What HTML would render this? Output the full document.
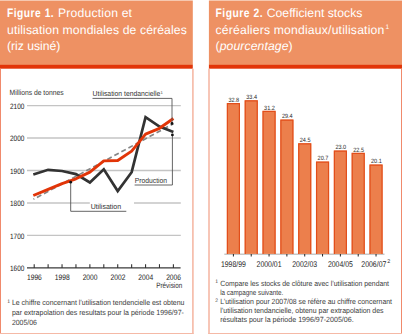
<!DOCTYPE html>
<html><head><meta charset="utf-8"><style>
html,body{margin:0;padding:0;background:#fff;width:402px;height:334px;overflow:hidden}
svg{display:block}
text{font-family:"Liberation Sans", sans-serif;text-rendering:geometricPrecision}
</style></head><body>
<svg width="402" height="334" viewBox="0 0 402 334">
<rect x="0" y="0.5" width="192.8" height="64.5" fill="#EE9163"/>
<rect x="0" y="64.8" width="192.8" height="3.9" fill="#E23508"/>
<rect x="208.9" y="0.5" width="193.1" height="64.5" fill="#EE9163"/>
<rect x="208.9" y="64.8" width="193.1" height="3.9" fill="#E23508"/>
<rect x="0" y="68.7" width="1" height="265.3" fill="#F08A6C"/>
<rect x="192.1" y="68.7" width="1.6" height="265.3" fill="#F5B9A6"/>
<rect x="0" y="333" width="193.5" height="1" fill="#F5B9A6"/>
<rect x="208.2" y="68.7" width="1.6" height="265.3" fill="#F5B9A6"/>
<rect x="401" y="68.7" width="1" height="265.3" fill="#F08A6C"/>
<rect x="208.2" y="333" width="194" height="1" fill="#F5B9A6"/>
<text x="7" y="16.6" font-size="12.2" font-weight="bold" font-style="normal" text-anchor="start" fill="#fff" textLength="47.2" lengthAdjust="spacingAndGlyphs" letter-spacing="0.6">Figure 1.</text>
<text x="58" y="16.9" font-size="12.2" font-weight="normal" font-style="normal" text-anchor="start" fill="#fff" textLength="74" lengthAdjust="spacing" >Production et</text>
<text x="7" y="33.6" font-size="12.2" font-weight="normal" font-style="normal" text-anchor="start" fill="#fff" textLength="179.8" lengthAdjust="spacing" >utilisation mondiales de céréales</text>
<text x="7" y="49.8" font-size="12.2" font-weight="normal" font-style="normal" text-anchor="start" fill="#fff" textLength="53.4" lengthAdjust="spacing" >(riz usiné)</text>
<text x="215.5" y="16.6" font-size="12.2" font-weight="bold" font-style="normal" text-anchor="start" fill="#fff" textLength="47.6" lengthAdjust="spacingAndGlyphs" letter-spacing="0.6">Figure 2.</text>
<text x="266.7" y="16.9" font-size="12.2" font-weight="normal" font-style="normal" text-anchor="start" fill="#fff" textLength="95.7" lengthAdjust="spacing" >Coefficient stocks</text>
<text x="215.5" y="33.6" font-size="12.2" font-weight="normal" font-style="normal" text-anchor="start" fill="#fff" textLength="168.8" lengthAdjust="spacing" >céréaliers mondiaux/utilisation</text>
<text x="385.6" y="29.4" font-size="6.6" font-weight="normal" font-style="normal" text-anchor="start" fill="#fff" >1</text>
<text x="215.5" y="49.8" font-size="12.2" font-weight="normal" font-style="normal" text-anchor="start" fill="#fff" textLength="77.1" lengthAdjust="spacing" >(<tspan font-style='italic'>pourcentage</tspan>)</text>
<text x="9.5" y="95.3" font-size="7.5" font-weight="normal" font-style="normal" text-anchor="start" fill="#333" textLength="54.2" lengthAdjust="spacingAndGlyphs" >Millions de tonnes</text>
<text x="24.4" y="108.80000000000003" font-size="7.8" font-weight="normal" font-style="normal" text-anchor="end" fill="#1a1a1a" textLength="14.4" lengthAdjust="spacingAndGlyphs" >2100</text>
<line x1="27" y1="105.60" x2="180.8" y2="105.60" stroke="#C4C4C4" stroke-width="1.4"/>
<text x="24.4" y="141.25" font-size="7.8" font-weight="normal" font-style="normal" text-anchor="end" fill="#1a1a1a" textLength="14.4" lengthAdjust="spacingAndGlyphs" >2000</text>
<line x1="27" y1="138.05" x2="180.8" y2="138.05" stroke="#C4C4C4" stroke-width="1.4"/>
<text x="24.4" y="173.7" font-size="7.8" font-weight="normal" font-style="normal" text-anchor="end" fill="#1a1a1a" textLength="14.4" lengthAdjust="spacingAndGlyphs" >1900</text>
<line x1="27" y1="170.50" x2="180.8" y2="170.50" stroke="#C4C4C4" stroke-width="1.4"/>
<text x="24.4" y="206.15" font-size="7.8" font-weight="normal" font-style="normal" text-anchor="end" fill="#1a1a1a" textLength="14.4" lengthAdjust="spacingAndGlyphs" >1800</text>
<line x1="27" y1="202.95" x2="89.8" y2="202.95" stroke="#C4C4C4" stroke-width="1.4"/>
<line x1="134" y1="202.95" x2="180.8" y2="202.95" stroke="#C4C4C4" stroke-width="1.4"/>
<text x="24.4" y="238.60000000000002" font-size="7.8" font-weight="normal" font-style="normal" text-anchor="end" fill="#1a1a1a" textLength="14.4" lengthAdjust="spacingAndGlyphs" >1700</text>
<line x1="27" y1="235.40" x2="180.8" y2="235.40" stroke="#C4C4C4" stroke-width="1.4"/>
<text x="24.4" y="271.05" font-size="7.8" font-weight="normal" font-style="normal" text-anchor="end" fill="#1a1a1a" textLength="14.4" lengthAdjust="spacingAndGlyphs" >1600</text>
<line x1="27" y1="267.85" x2="180.6" y2="267.85" stroke="#3a3a3a" stroke-width="1.4"/>
<line x1="34.20" y1="264.2" x2="34.20" y2="268" stroke="#333" stroke-width="1.1"/>
<line x1="48.12" y1="264.2" x2="48.12" y2="268" stroke="#333" stroke-width="1.1"/>
<line x1="62.04" y1="264.2" x2="62.04" y2="268" stroke="#333" stroke-width="1.1"/>
<line x1="75.96" y1="264.2" x2="75.96" y2="268" stroke="#333" stroke-width="1.1"/>
<line x1="89.88" y1="264.2" x2="89.88" y2="268" stroke="#333" stroke-width="1.1"/>
<line x1="103.80" y1="264.2" x2="103.80" y2="268" stroke="#333" stroke-width="1.1"/>
<line x1="117.72" y1="264.2" x2="117.72" y2="268" stroke="#333" stroke-width="1.1"/>
<line x1="131.64" y1="264.2" x2="131.64" y2="268" stroke="#333" stroke-width="1.1"/>
<line x1="145.56" y1="264.2" x2="145.56" y2="268" stroke="#333" stroke-width="1.1"/>
<line x1="159.48" y1="264.2" x2="159.48" y2="268" stroke="#333" stroke-width="1.1"/>
<line x1="173.40" y1="264.2" x2="173.40" y2="268" stroke="#333" stroke-width="1.1"/>
<text x="34.400000000000006" y="280" font-size="8" font-weight="normal" font-style="normal" text-anchor="middle" fill="#1a1a1a" textLength="14.9" lengthAdjust="spacingAndGlyphs" >1996</text>
<text x="62.24000000000001" y="280" font-size="8" font-weight="normal" font-style="normal" text-anchor="middle" fill="#1a1a1a" textLength="14.9" lengthAdjust="spacingAndGlyphs" >1998</text>
<text x="90.08" y="280" font-size="8" font-weight="normal" font-style="normal" text-anchor="middle" fill="#1a1a1a" textLength="14.9" lengthAdjust="spacingAndGlyphs" >2000</text>
<text x="117.92" y="280" font-size="8" font-weight="normal" font-style="normal" text-anchor="middle" fill="#1a1a1a" textLength="14.9" lengthAdjust="spacingAndGlyphs" >2002</text>
<text x="145.76" y="280" font-size="8" font-weight="normal" font-style="normal" text-anchor="middle" fill="#1a1a1a" textLength="14.9" lengthAdjust="spacingAndGlyphs" >2004</text>
<text x="173.59999999999997" y="280" font-size="8" font-weight="normal" font-style="normal" text-anchor="middle" fill="#1a1a1a" textLength="14.9" lengthAdjust="spacingAndGlyphs" >2006</text>
<text x="182.3" y="288" font-size="7.8" font-weight="normal" font-style="normal" text-anchor="end" fill="#333" textLength="26.1" lengthAdjust="spacingAndGlyphs" >Prévision</text>
<line x1="33.5" y1="199.3" x2="173.4" y2="123.7" stroke="#858585" stroke-width="1.7" stroke-dasharray="5 3" stroke-dashoffset="4.1"/>
<polyline points="33.30,174.50 48.12,169.80 62.04,171.00 75.96,174.10 89.88,182.50 103.80,169.30 117.72,191.00 131.64,172.20 145.56,117.20 159.48,126.60 173.40,131.90" fill="none" stroke="#333" stroke-width="2.7" stroke-linejoin="miter" stroke-miterlimit="3"/>
<polyline points="33.30,195.50 48.12,189.40 62.04,183.60 75.96,178.80 89.88,172.10 103.80,160.90 117.72,160.50 131.64,151.10 145.56,134.20 159.48,128.30 173.40,118.50" fill="none" stroke="#E23508" stroke-width="2.9" stroke-linejoin="round"/>
<polyline points="92.5,98.4 172,98.4 172,123.5" fill="none" stroke="#555" stroke-width="0.9"/>
<circle cx="172" cy="123.5" r="1.4" fill="#111"/>
<text x="92.6" y="96" font-size="7.4" font-weight="normal" font-style="normal" text-anchor="start" fill="#333" textLength="67.8" lengthAdjust="spacingAndGlyphs" >Utilisation tendancielle</text>
<text x="160.6" y="93.6" font-size="4.2" font-weight="normal" font-style="normal" text-anchor="start" fill="#444" >1</text>
<polyline points="134.6,185 172.4,185 172.4,134.9" fill="none" stroke="#555" stroke-width="0.9"/>
<circle cx="172.4" cy="134.9" r="1.4" fill="#111"/>
<text x="134.7" y="183.2" font-size="7.4" font-weight="normal" font-style="normal" text-anchor="start" fill="#333" textLength="32.4" lengthAdjust="spacingAndGlyphs" >Production</text>
<polyline points="70.7,182.2 70.7,211.3 126.3,211.3" fill="none" stroke="#555" stroke-width="0.9"/>
<circle cx="70.7" cy="182.2" r="1.4" fill="#111"/>
<text x="90.7" y="209.2" font-size="7.4" font-weight="normal" font-style="normal" text-anchor="start" fill="#333" textLength="30.5" lengthAdjust="spacingAndGlyphs" >Utilisation</text>
<text x="7.3" y="302.8" font-size="5" font-weight="normal" font-style="normal" text-anchor="start" fill="#3a3a3a" >1</text>
<text x="11.9" y="305.3" font-size="7.5" font-weight="normal" font-style="normal" text-anchor="start" fill="#3a3a3a" textLength="172.6" lengthAdjust="spacingAndGlyphs" >Le chiffre concernant l’utilisation tendencielle est obtenu</text>
<text x="11.9" y="314.9" font-size="7.5" font-weight="normal" font-style="normal" text-anchor="start" fill="#3a3a3a" textLength="172" lengthAdjust="spacingAndGlyphs" >par extrapolation des resultats pour la période 1996/97-</text>
<text x="11.9" y="324.5" font-size="7.5" font-weight="normal" font-style="normal" text-anchor="start" fill="#3a3a3a" textLength="25.1" lengthAdjust="spacingAndGlyphs" >2005/06</text>
<line x1="224.3" y1="254.2" x2="384.5" y2="254.2" stroke="#c8c8c8" stroke-width="1.5"/>
<rect x="226.90" y="103.20" width="13" height="150.70" fill="#EC7F4C"/>
<path d="M227.40,253.9 V103.70 H239.40 V253.9" fill="none" stroke="#E24E1A" stroke-width="1.2"/>
<text x="233.8" y="101.89800000000001" font-size="6.2" font-weight="normal" font-style="normal" text-anchor="middle" fill="#2a2a2a" textLength="10.8" lengthAdjust="spacingAndGlyphs" >32.8</text>
<line x1="233.40" y1="254" x2="233.40" y2="256.5" stroke="#222" stroke-width="1"/>
<rect x="244.73" y="100.30" width="13" height="153.60" fill="#EC7F4C"/>
<path d="M245.23,253.9 V100.80 H257.23 V253.9" fill="none" stroke="#E24E1A" stroke-width="1.2"/>
<text x="251.63000000000002" y="99.0" font-size="6.2" font-weight="normal" font-style="normal" text-anchor="middle" fill="#2a2a2a" textLength="10.8" lengthAdjust="spacingAndGlyphs" >33.4</text>
<line x1="251.23" y1="254" x2="251.23" y2="256.5" stroke="#222" stroke-width="1"/>
<rect x="262.56" y="110.93" width="13" height="142.97" fill="#EC7F4C"/>
<path d="M263.06,253.9 V111.43 H275.06 V253.9" fill="none" stroke="#E24E1A" stroke-width="1.2"/>
<text x="269.46" y="109.62599999999999" font-size="6.2" font-weight="normal" font-style="normal" text-anchor="middle" fill="#2a2a2a" textLength="10.8" lengthAdjust="spacingAndGlyphs" >31.2</text>
<line x1="269.06" y1="254" x2="269.06" y2="256.5" stroke="#222" stroke-width="1"/>
<rect x="280.39" y="119.62" width="13" height="134.28" fill="#EC7F4C"/>
<path d="M280.89,253.9 V120.12 H292.89 V253.9" fill="none" stroke="#E24E1A" stroke-width="1.2"/>
<text x="287.28999999999996" y="118.32000000000001" font-size="6.2" font-weight="normal" font-style="normal" text-anchor="middle" fill="#2a2a2a" textLength="10.8" lengthAdjust="spacingAndGlyphs" >29.4</text>
<line x1="286.89" y1="254" x2="286.89" y2="256.5" stroke="#222" stroke-width="1"/>
<rect x="298.22" y="143.29" width="13" height="110.61" fill="#EC7F4C"/>
<path d="M298.72,253.9 V143.79 H310.72 V253.9" fill="none" stroke="#E24E1A" stroke-width="1.2"/>
<text x="305.12" y="141.98699999999997" font-size="6.2" font-weight="normal" font-style="normal" text-anchor="middle" fill="#2a2a2a" textLength="10.8" lengthAdjust="spacingAndGlyphs" >24.5</text>
<line x1="304.72" y1="254" x2="304.72" y2="256.5" stroke="#222" stroke-width="1"/>
<rect x="316.05" y="161.64" width="13" height="92.26" fill="#EC7F4C"/>
<path d="M316.55,253.9 V162.14 H328.55 V253.9" fill="none" stroke="#E24E1A" stroke-width="1.2"/>
<text x="322.95" y="160.34099999999998" font-size="6.2" font-weight="normal" font-style="normal" text-anchor="middle" fill="#2a2a2a" textLength="10.8" lengthAdjust="spacingAndGlyphs" >20.7</text>
<line x1="322.55" y1="254" x2="322.55" y2="256.5" stroke="#222" stroke-width="1"/>
<rect x="333.88" y="150.53" width="13" height="103.37" fill="#EC7F4C"/>
<path d="M334.38,253.9 V151.03 H346.38 V253.9" fill="none" stroke="#E24E1A" stroke-width="1.2"/>
<text x="340.78" y="149.23199999999997" font-size="6.2" font-weight="normal" font-style="normal" text-anchor="middle" fill="#2a2a2a" textLength="10.8" lengthAdjust="spacingAndGlyphs" >23.0</text>
<line x1="340.38" y1="254" x2="340.38" y2="256.5" stroke="#222" stroke-width="1"/>
<rect x="351.71" y="152.95" width="13" height="100.95" fill="#EC7F4C"/>
<path d="M352.21,253.9 V153.45 H364.21 V253.9" fill="none" stroke="#E24E1A" stroke-width="1.2"/>
<text x="358.60999999999996" y="151.647" font-size="6.2" font-weight="normal" font-style="normal" text-anchor="middle" fill="#2a2a2a" textLength="10.8" lengthAdjust="spacingAndGlyphs" >22.5</text>
<line x1="358.21" y1="254" x2="358.21" y2="256.5" stroke="#222" stroke-width="1"/>
<rect x="369.54" y="164.54" width="13" height="89.36" fill="#EC7F4C"/>
<path d="M370.04,253.9 V165.04 H382.04 V253.9" fill="none" stroke="#E24E1A" stroke-width="1.2"/>
<text x="376.43999999999994" y="163.23899999999998" font-size="6.2" font-weight="normal" font-style="normal" text-anchor="middle" fill="#2a2a2a" textLength="10.8" lengthAdjust="spacingAndGlyphs" >20.1</text>
<line x1="376.04" y1="254" x2="376.04" y2="256.5" stroke="#222" stroke-width="1"/>
<text x="233.4" y="266.8" font-size="8.3" font-weight="normal" font-style="normal" text-anchor="middle" fill="#1a1a1a" textLength="25.0" lengthAdjust="spacingAndGlyphs" >1998/99</text>
<text x="269.06" y="266.8" font-size="8.3" font-weight="normal" font-style="normal" text-anchor="middle" fill="#1a1a1a" textLength="25.0" lengthAdjust="spacingAndGlyphs" >2000/01</text>
<text x="304.72" y="266.8" font-size="8.3" font-weight="normal" font-style="normal" text-anchor="middle" fill="#1a1a1a" textLength="25.0" lengthAdjust="spacingAndGlyphs" >2002/03</text>
<text x="340.38" y="266.8" font-size="8.3" font-weight="normal" font-style="normal" text-anchor="middle" fill="#1a1a1a" textLength="25.0" lengthAdjust="spacingAndGlyphs" >2004/05</text>
<text x="373.84" y="266.8" font-size="8.3" font-weight="normal" font-style="normal" text-anchor="middle" fill="#1a1a1a" textLength="25.0" lengthAdjust="spacingAndGlyphs" >2006/07</text>
<text x="387.2" y="262.8" font-size="5.4" font-weight="normal" font-style="normal" text-anchor="start" fill="#1a1a1a" >2</text>
<text x="215.3" y="283.3" font-size="5" font-weight="normal" font-style="normal" text-anchor="start" fill="#3a3a3a" >1</text>
<text x="220.2" y="285.6" font-size="7.5" font-weight="normal" font-style="normal" text-anchor="start" fill="#3a3a3a" textLength="168.8" lengthAdjust="spacingAndGlyphs" >Compare les stocks de clôture avec l’utilisation pendant</text>
<text x="220.2" y="294.5" font-size="7.5" font-weight="normal" font-style="normal" text-anchor="start" fill="#3a3a3a" textLength="63" lengthAdjust="spacingAndGlyphs" >la campagne suivante.</text>
<text x="215.3" y="301.6" font-size="5" font-weight="normal" font-style="normal" text-anchor="start" fill="#3a3a3a" >2</text>
<text x="220.2" y="303.6" font-size="7.5" font-weight="normal" font-style="normal" text-anchor="start" fill="#3a3a3a" textLength="171.8" lengthAdjust="spacingAndGlyphs" >L’utilisation pour 2007/08 se réfère au chiffre concernant</text>
<text x="220.2" y="312.5" font-size="7.5" font-weight="normal" font-style="normal" text-anchor="start" fill="#3a3a3a" textLength="163.4" lengthAdjust="spacingAndGlyphs" >l’utilisation tendancielle, obtenu par extrapolation des</text>
<text x="220.2" y="321.7" font-size="7.5" font-weight="normal" font-style="normal" text-anchor="start" fill="#3a3a3a" textLength="133.5" lengthAdjust="spacingAndGlyphs" >résultats pour la période 1996/97-2005/06.</text>
</svg>
</body></html>
